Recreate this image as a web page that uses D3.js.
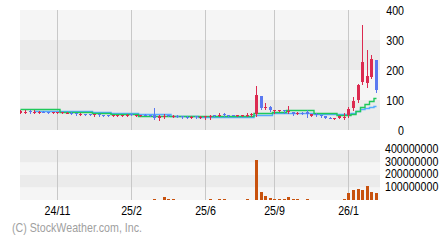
<!DOCTYPE html>
<html>
<head>
<meta charset="utf-8">
<script src="https://cdn.jsdelivr.net/npm/d3@7"></script>
<style>
  body { margin: 0; background: #fff; }
  svg { display: block; }
  text { font-family: "Liberation Sans", Arial, sans-serif; font-size: 13px; }
</style>
</head>
<body>
<div id="chart"></div>
<script>
// weekly candles, 2024-09-09 .. 2026-03-02
var openP  = [58,58,64,58,60,61,60,59,59,58,57,58,57,52,54,53,50,53,50,49,48,48,49,49,52,49,49,51,50,50,
              40,44,49,46,48,47,45,41,46,43,44,45,50,48,52,50,50,49,49,49,50,52,113,72,76,64,65,66,60,60,
              54,58,60,48,54,50,46,41,39,40,40,50,72,100,160,158,178,232];
var highP  = [68,66,66,68,62,62,61,61,61,60,59,59,58,56,55,54,55,54,51,50,50,51,51,52,53,51,51,53,51,73,
              50,53,50,49,49,48,46,47,47,46,48,50,51,56,58,51,51,51,51,58,56,147,114,90,79,68,67,67,80,61,
              59,59,66,53,56,51,47,42,41,48,56,76,110,152,350,268,250,233];
var lowP   = [57,57,58,57,58,59,58,58,58,57,56,55,51,50,51,49,48,48,48,47,47,47,48,47,49,48,48,49,48,37,
              35,39,46,45,45,40,41,40,40,40,38,38,47,47,47,48,49,48,48,47,48,47,70,69,64,57,63,58,56,50,
              53,55,45,47,47,45,39,39,38,39,36,44,68,95,155,142,172,127];
var closeP = [62,60,60,60,61,59,59,60,60,59,58,56,53,54,52,50,53,50,49,48,49,50,50,51,50,50,50,50,49,40,
              46,48,47,48,46,43,42,45,42,45,47,48,48,51,50,49,49,50,50,51,52,117,72,78,67,66,66,63,64,55,
              58,56,52,52,49,46,41,40,40,46,44,69,98,150,228,180,236,132];
var volume = [1.2e6,0.9e6,1.1e6,0.8e6,1e6,0.7e6,0.9e6,1e6,1.2e6,0.8e6,0.9e6,1e6,1.3e6,0.9e6,0.8e6,1e6,1.1e6,0.9e6,0.8e6,1e6,
              0.9e6,1e6,0.8e6,1.1e6,1.2e6,0.9e6,1e6,1.3e6,1.5e6,8e6,2e6,21e6,8e6,8e6,1.5e6,2e6,1.8e6,1.4e6,1.6e6,1.2e6,
              1.5e6,6e6,2e6,8e6,8e6,1.5e6,1.2e6,1.4e6,1.8e6,8e6,2e6,320e6,67e6,32e6,19e6,8e6,8e6,8e6,27e6,8e6,
              8e6,2e6,8e6,1.5e6,1.8e6,1.2e6,1.5e6,1.4e6,1.6e6,1.9e6,8e6,53e6,80e6,91e6,80e6,115e6,67e6,59e6];
var maFast = [69,69,69,69,69,69,69,69,69,61,61,61,61,61,61,61,58,58,58,58,55,55,55,55,55,55,48,48,48,48,
              48,48,48,46,46,46,46,46,46,47,47,47,47,47,47,47,47,47,47,47,47,56,56,56,56,61,61,61,67,67,
              67,67,67,67,56,56,56,56,56,50,50,50,55,65,76,86,96,107];
var maSlow = [null,null,null,65,65,65,65,65,65,65,65,65,65,65,65,65,60,60,60,60,57,57,57,57,57,57,52,52,52,52,
              52,52,52,47,47,47,47,47,47,45,45,45,45,45,45,45,45,45,45,45,45,50,50,50,50,56,56,56,58,58,
              58,58,58,58,54,54,54,54,54,54,54,54,56,63,70,75,78,80];

var priceTicks = [0, 100, 200, 300, 400];
var volTicks = [100000000, 200000000, 300000000, 400000000];
var dateTicks = ["2024-11-04", "2025-02-24", "2025-06-16", "2025-09-29", "2026-01-19"];
var dateLabels = ["24/11", "25/2", "25/6", "25/9", "26/1"];

var fmt = d3.timeFormat("%Y-%m-%d");
var weeks = d3.timeMonday.range(new Date(2024, 8, 9), new Date(2026, 2, 3)).map(fmt);

var candles = weeks.map(function(w, i) {
  return { date: w, o: openP[i], h: highP[i], l: lowP[i], c: closeP[i], v: volume[i], f: maFast[i], s: maSlow[i] };
});

var svg = d3.select("#chart").append("svg").attr("width", 440).attr("height", 240);

var plot = { left: 20, right: 380, top: 10, bottom: 130 };
var vplot = { top: 150, bottom: 200 };

var x = d3.scalePoint().domain(weeks).range([20.35, 376]);
var y = d3.scaleLinear().domain([0, 400]).range([plot.bottom, plot.top]);
var yv = d3.scaleLinear().domain([0, 400000000]).range([vplot.bottom, vplot.top]);
var px = function(d) { return Math.round(x(d)); };

// narrow text: squeeze Liberation Sans horizontally
var narrow = function(sel, fx, fy) {
  return sel.attr("transform", (d, i) => `translate(${fx(d, i)},${fy(d, i)}) scale(0.82,1)`);
};

svg.append("clipPath").attr("id", "clip")
  .append("rect").attr("x", plot.left).attr("y", plot.top)
  .attr("width", plot.right - plot.left).attr("height", plot.bottom - plot.top);

// bands
var bands = d3.pairs(priceTicks);
svg.selectAll(".band").data(bands).enter().append("rect")
  .attr("x", plot.left).attr("width", plot.right - plot.left)
  .attr("y", d => y(d[1])).attr("height", d => y(d[0]) - y(d[1]))
  .attr("fill", (d, i) => i % 2 == 0 ? "#ebebeb" : "#f5f5f5");

var vbands = d3.pairs([0].concat(volTicks));
svg.selectAll(".vband").data(vbands).enter().append("rect")
  .attr("x", plot.left).attr("width", plot.right - plot.left)
  .attr("y", d => yv(d[1])).attr("height", d => yv(d[0]) - yv(d[1]))
  .attr("fill", (d, i) => i % 2 == 0 ? "#f5f5f5" : "#ebebeb");

// vertical grid
svg.selectAll(".grid").data(dateTicks).enter().append("line")
  .attr("x1", d => px(d) + 0.5).attr("x2", d => px(d) + 0.5)
  .attr("y1", plot.top).attr("y2", plot.bottom)
  .attr("stroke", "#c8c8c8");
svg.selectAll(".vgrid").data(dateTicks).enter().append("line")
  .attr("x1", d => px(d) + 0.5).attr("x2", d => px(d) + 0.5)
  .attr("y1", vplot.top).attr("y2", vplot.bottom)
  .attr("stroke", "#c8c8c8");

var g = svg.append("g").attr("clip-path", "url(#clip)");

// moving averages
var maLine = function(key) {
  return d3.line()
    .defined(d => d[key] != null)
    .x(d => px(d.date) + 0.5)
    .y(d => Math.round(y(d[key])) + 0.5)
    .curve(d3.curveStep);
};
g.append("path").datum(candles).attr("d", maLine("s"))
  .attr("fill", "none").attr("stroke", "#55aaff").attr("stroke-width", 1.4);
g.append("path").datum(candles).attr("d", maLine("f"))
  .attr("fill", "none").attr("stroke", "#1ec85a").attr("stroke-width", 1.4);

// candles
var up = "#dc2a50", down = "#5a78f0";
var cg = g.selectAll(".candle").data(candles).enter().append("g")
  .attr("shape-rendering", "crispEdges");
cg.append("line")
  .attr("x1", d => px(d.date) + 0.5).attr("x2", d => px(d.date) + 0.5)
  .attr("y1", d => Math.round(y(d.h))).attr("y2", d => Math.round(y(d.l)) + 1)
  .attr("stroke", d => d.c >= d.o ? up : down);
cg.append("rect")
  .attr("x", d => px(d.date) - 1).attr("width", 3)
  .attr("y", d => Math.round(y(Math.max(d.o, d.c))))
  .attr("height", d => Math.max(1, Math.round(y(Math.min(d.o, d.c))) - Math.round(y(Math.max(d.o, d.c)))))
  .attr("fill", d => d.c >= d.o ? up : down);

// volume bars
svg.selectAll(".vol").data(candles).enter().append("rect")
  .attr("shape-rendering", "crispEdges")
  .attr("x", d => px(d.date) - 1).attr("width", 3)
  .attr("y", d => yv(d.v)).attr("height", d => vplot.bottom - yv(d.v))
  .attr("fill", "#c8520e");

// labels
narrow(svg.selectAll(".plabel").data(priceTicks).enter().append("text"), () => 404, d => y(d))
  .attr("dy", "0.35em")
  .attr("text-anchor", "end").attr("fill", "#000")
  .text(d => d);

narrow(svg.selectAll(".vlabel").data(volTicks).enter().append("text"), () => 385, d => yv(d) - 1.5)
  .attr("dy", "0.35em")
  .attr("fill", "#000")
  .text(d => d);

narrow(svg.selectAll(".dlabel").data(dateTicks).enter().append("text"), d => px(d) + 0.5, () => 215)
  .attr("text-anchor", "middle").attr("fill", "#000")
  .text((d, i) => dateLabels[i]);

narrow(svg.append("text").datum(0), () => 12, () => 232)
  .attr("fill", "#a0a0a0")
  .text("(C) StockWeather.com, Inc.");
</script>
</body>
</html>
